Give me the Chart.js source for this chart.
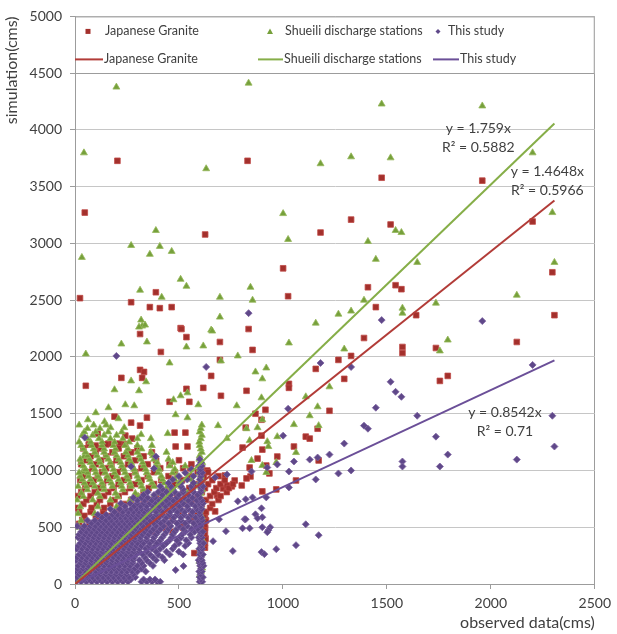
<!DOCTYPE html>
<html>
<head>
<meta charset="utf-8">
<script src="https://cdn.jsdelivr.net/npm/chart.js@4.4.1/dist/chart.umd.min.js"></script>
<style>
  html, body { margin: 0; padding: 0; background: #fff; }
</style>
</head>
<body>
<canvas id="chart" width="617" height="634"></canvas>
<script>
const seriesNames = ["Japanese Granite", "Shueili discharge stations", "This study"];
const slopes = [1.4648, 1.759, 0.8542];
const rSquared = ["0.5966", "0.5882", "0.71"];
const trendEndX = 2306;
const xTitle = "observed data(cms)";
const yTitle = "simulation(cms)";
const xMax = 2500, xStep = 500;
const yMax = 5000, yStep = 500;
const legendFloor = 4500;

// Japanese Granite - scattered points
const granitePts = [
  [47,3272],[204,3728],[24,2518],[830,3728],[626,3079],[1001,2781],[1025,2535],[1181,3096],[1328,3210],
  [1475,3579],[1518,3167],[1409,2614],[1542,2632],[1570,2597],[1447,2439],[1641,2368],[835,2246],
  [1959,3553],[2201,3193],[2296,2746],[2306,2368],[2125,2132],[1736,2079],[1755,1789],[1793,1833],
  [270,2482],[389,2570],[360,2439],[408,2430],[465,2439],[508,2254],
  [854,2062],[1390,2167],[1575,2088],[1575,2035],[1267,1974],[1328,2009],[1158,1895],[1295,1807],
  [1029,1763],[1029,1728],[1224,1526],[916,1535],[868,1500],[897,1447],[821,1377],[897,1307],
  [1110,1298],[1129,1281],[1167,1368],[1053,1211],[901,1184],[878,1105],[973,1123],[1172,1088],
  [840,1026],[920,1044],[844,947],[935,974],[1063,912],[901,816],[968,833],
  [313,2202],[512,2246],[536,2175],[697,2132],[413,2044],[697,1974],[313,1886],[332,1868],[223,1816],
  [323,1816],[52,1746],[655,1833],[617,1728],[536,1719],[702,1658],[825,1702],[455,1605],[550,1605],
  [190,1474],[346,1465],[270,1421],[313,1395],[109,1325],[242,1307],[275,1281],[479,1333],[531,1333],
  [66,1228],[100,1219],[161,1237],[213,1237],[484,1211],[541,1211],[806,1202],[683,781],[712,842],
  [754,860],[721,956],[636,1000],[555,1018],[674,640],[626,491],[574,272],[731,868],[768,912],
  [802,868],[825,930]
];
// Japanese Granite - dense cloud, rows of [y, x values]
const graniteRows = [
  [320,[625]],[360,[625]],[400,[628]],[440,[625]],[480,[622]],[520,[625]],[560,[630]],[600,[625]],
  [460,[40,120,200,290,380,470]],
  [495,[60,160,250,340,430,520]],
  [530,[20,70,150,230,330,420,520]],
  [565,[35,110,190,280,375,470,560]],
  [600,[45,100,170,260,350,450,560,620]],
  [635,[20,75,135,215,305,400,500,590,630]],
  [670,[15,80,140,210,300,390,500,600,650]],
  [705,[40,105,170,240,330,425,525,610,660]],
  [740,[55,120,190,270,360,460,560,630,690]],
  [775,[15,75,140,210,295,390,490,590,650,700]],
  [810,[30,95,160,240,330,420,520,610,670,730]],
  [845,[50,115,185,265,355,450,550,625,680,740]],
  [880,[70,135,210,290,380,480,580,640,700,760]],
  [915,[25,90,155,235,320,415,515,610,660,720]],
  [950,[40,110,180,260,350,450,550,620,690]],
  [985,[60,130,205,290,380,480,590,640]],
  [1020,[85,150,230,320,410,520,610]],
  [1055,[30,100,175,255,350,455,560]],
  [1090,[55,125,200,290,390,500]],
  [1125,[75,150,235,330]],
  [1160,[100,180,270,370]],
  [1195,[40,125,210,300]],
  [1230,[70,150,240]]
];

// Shueili discharge stations - scattered points
const shueiliPts = [
  [199,4377],[43,3798],[631,3658],[389,3114],[270,2982],[408,2974],[360,2904],[465,2930],[33,2877],
  [508,2684],[536,2623],[313,2588],[417,2526],[697,2526],[697,2351],[318,2325],[323,2272],[308,2263],
  [337,2281],[655,2237],[835,4412],[1475,4228],[1181,3702],[1328,3763],[1518,3754],[1001,3263],
  [1025,3035],[1409,3017],[1542,3114],[1570,3096],[1447,2860],[1646,2833],[844,2614],[854,2500],
  [1390,2500],[1328,2404],[1267,2377],[1158,2298],[1575,2430],[1575,2386],[1959,4211],[2201,3798],
  [2296,3272],[2306,2833],[2125,2544],[1736,2474],[1793,2149],[1755,2053],
  [1029,2123],[1295,2070],[868,1868],[920,1903],[901,1807],[1224,1737],[897,1640],[1110,1649],
  [1167,1561],[1129,1482],[1053,1404],[1172,1395],[878,1377],[901,1447],[840,1263],[973,1298],
  [925,1254],[930,1211],[1063,1158],[849,1088],[968,1070],[901,1044],[920,982],
  [660,2228],[223,2114],[346,2132],[536,2088],[617,2097],[52,2026],[783,2009],[702,1965],[455,1947],
  [270,1789],[342,1781],[190,1711],[308,1702],[508,1658],[474,1623],[541,1684],[593,1579],[161,1553],
  [242,1579],[285,1570],[100,1509],[62,1447],[142,1430],[209,1456],[237,1377],[171,1377],[484,1491],
  [541,1465],[365,1281],[318,1316],[446,1325],[43,1123],[38,991],[778,1570],[731,1281],[825,1368],
  [688,1395]
];
const shueiliRows = [
  [30,[604]],[80,[600]],[110,[606]],[140,[612]],[170,[604]],[200,[598]],[230,[606]],[260,[608]],
  [290,[604]],[320,[600]],[350,[608]],[380,[615]],[410,[604]],[440,[602]],[470,[606]],
  [500,[20,110,230,600]],
  [530,[602]],
  [560,[30,130,250,380,605]],
  [590,[610]],
  [620,[15,95,185,280,410,600]],
  [650,[600]],
  [680,[25,110,200,300,430,608]],
  [710,[605]],
  [740,[10,85,170,265,370,520,598]],
  [770,[40,120,205,305,420,600]],
  [800,[30,110,195,290,400,540,605]],
  [830,[60,140,230,330,460,612]],
  [860,[15,55,95,135,180,225,270,320,380,445,510,600]],
  [890,[45,85,130,175,220,265,315,370,430,500,598]],
  [920,[35,75,120,165,210,255,305,360,420,480,560,610]],
  [950,[25,65,110,155,200,250,300,355,415,490,605]],
  [980,[20,60,100,145,190,240,290,345,400,470,600]],
  [1010,[50,95,140,185,235,285,340,405,480,600]],
  [1040,[40,85,130,175,225,275,330,390,455,530,605]],
  [1070,[30,75,120,170,220,270,325,395,470,612]],
  [1100,[25,70,115,160,210,260,315,380,450,598]],
  [1130,[60,105,150,200,255,310,375,600]],
  [1160,[50,95,140,190,245,300,365,440,610]],
  [1190,[40,90,140,195,255,320,605]],
  [1220,[30,80,130,185,240,300,370,600]],
  [1250,[20,75,130,190,260,598]],
  [1280,[60,115,170,230,300,605]],
  [1310,[35,85,140,200,610]],
  [1340,[45,100,160,225,600]],
  [1370,[60,120,605]],
  [1400,[20,90,150,610]]
];

// This study - scattered points
const studyPts = [
  [199,2009],[47,1290],[631,1912],[33,491],[270,1035],[389,1123],[380,1018],[726,465],[759,290],
  [783,728],[806,491],[816,570],[693,570],[664,377],[522,158],[484,123],[674,939],[731,965],
  [1181,1947],[1328,1912],[1518,1781],[1542,1693],[1570,1649],[1025,1544],[1447,1553],[1646,1482],
  [1390,1395],[1409,1368],[1001,1307],[1295,1237],[1224,1140],[1129,1096],[1167,1114],[1053,1079],
  [973,1053],[1575,1079],[1575,1035],[925,1026],[849,991],[1029,991],[1267,974],[1328,1000],
  [1158,921],[1029,851],[854,763],[920,763],[821,746],[897,667],[868,614],[901,588],[878,579],
  [821,570],[1110,526],[840,491],[901,500],[939,500],[930,474],[925,456],[1172,430],[1063,342],
  [968,307],[897,281],[911,263],
  [2201,1930],[2296,1482],[1736,1298],[2306,1211],[1793,1140],[2125,1096],[1755,1035],[1959,2316],
  [835,2386],[1475,2325]
];
const studyRows = [
  [20,[5,30,55,80,105,130,155,180,205,230,255,320,345,370,395,410,600,612]],
  [40,[18,42,68,92,118,142,168,192,218,242,268,330,360,385,605]],
  [60,[10,35,60,85,110,135,160,185,210,235,260,290,600,615]],
  [85,[20,48,72,98,122,148,172,198,222,248,280,604]],
  [110,[0,25,50,75,100,125,150,175,200,225,250,275,300,340,598,610]],
  [135,[12,38,62,88,112,138,162,188,212,238,262,288,320,606]],
  [160,[15,40,65,90,115,140,165,190,215,240,265,300,330,375,602,618]],
  [185,[28,52,78,102,128,152,178,202,228,252,278,320,360,600,614]],
  [210,[5,30,55,80,105,130,155,180,205,230,255,280,310,345,390,430,595,610]],
  [235,[10,35,60,85,110,135,160,185,210,235,260,285,335,375,420,606]],
  [260,[20,45,70,95,120,145,170,195,220,245,270,295,325,360,400,455,520,600,615]],
  [285,[30,58,82,108,132,158,182,208,232,258,282,310,345,390,440,500,604]],
  [310,[8,35,60,85,110,135,160,185,210,235,260,285,310,340,370,410,470,598,612]],
  [335,[15,45,70,95,120,145,170,195,220,245,270,295,320,355,385,425,480,530,608]],
  [360,[25,50,75,100,125,150,175,200,225,250,275,300,330,360,395,440,500,545,602,618]],
  [385,[35,62,88,112,138,162,188,212,238,262,288,315,345,375,410,455,490,535,600]],
  [410,[15,40,65,90,115,140,165,190,215,240,265,290,315,345,380,420,465,510,560,595,610]],
  [435,[20,48,72,98,122,148,172,198,222,248,272,298,325,355,390,430,470,515,555,606]],
  [460,[30,55,80,105,130,155,180,205,230,255,280,305,335,365,400,440,480,530,575,600,615]],
  [485,[40,68,92,118,142,168,192,218,242,268,292,318,345,378,412,450,490,520,560,590]],
  [510,[10,45,75,100,125,150,175,200,225,250,275,300,325,355,390,425,460,500,540,580,605]],
  [535,[80,112,138,162,188,212,238,262,288,315,345,378,412,450,490,530,570,600]],
  [560,[60,95,125,150,175,200,225,250,275,300,330,360,395,430,470,510,550,590,612]],
  [585,[130,165,192,218,242,268,292,318,345,375,405,440,475,510,545,580,608]],
  [610,[110,150,180,205,230,255,280,305,330,360,390,420,455,490,525,560,600]],
  [635,[190,230,258,282,308,332,360,390,422,458,492,528,565,600]],
  [660,[170,215,245,270,295,320,345,375,405,440,475,510,545,585,610]],
  [685,[240,285,315,345,375,405,435,468,502,540,578,606]],
  [710,[220,265,300,330,360,390,420,450,485,520,560,598,615]],
  [735,[300,335,370,405,440,472,508,545,585,610]],
  [760,[280,320,350,385,420,455,490,525,565,600]],
  [785,[330,380,420,460,500,545,590]],
  [810,[350,400,440,480,520,570,605]],
  [835,[420,470,520,565,608]],
  [860,[410,460,510,560,600,615]],
  [890,[450,510,570,605]],
  [920,[470,540,600]],
  [950,[500,570,606]],
  [980,[530,600,612]],
  [1010,[560,604]],
  [1040,[595,610]],
  [1070,[606]],
  [1100,[600]]
];

const colors = {
  granite: { fill: "#a3302c", edge: "#bf4a46", line: "#b23c38" },
  shueili: { fill: "#76a03b", edge: "#96b85a", line: "#86ae48" },
  study:   { fill: "#5f4889", edge: "#7c62a0", line: "#6b4f98" },
};
const textColor = "#404040";
const gridColor = "#c6c6c6";
const axisColor = "#9c9c9c";
const fontFamily = "Lato, 'Open Sans', sans-serif";

function toPoints(pts, rows) {
  const out = pts.map(([x, y]) => ({ x, y }));
  rows.forEach(([y, xs]) => xs.forEach((x) => out.push({ x, y })));
  return out;
}

function trendData(slope) {
  return [{ x: 0, y: 0 }, { x: trendEndX, y: slope * trendEndX }];
}

const scatterStyle = (c, style, radius, order) => ({
  pointStyle: style,
  pointRadius: radius,
  pointHoverRadius: radius,
  backgroundColor: c.fill,
  borderColor: c.edge,
  borderWidth: 0.8,
  showLine: false,
  order,
});

const trendStyle = (c) => ({
  showLine: true,
  pointRadius: 0,
  borderColor: c.line,
  borderWidth: 2,
  fill: false,
  order: 0,
});

// equation labels: anchor in data units, 2nd line drawn 19px lower
const eqLabels = [
  { at: [2272, 3632], text: [`y = ${slopes[0]}x`, `R² = ${rSquared[0]}`] },
  { at: [1940, 4009], text: [`y = ${slopes[1]}x`, `R² = ${rSquared[1]}`] },
  { at: [2068, 1509], text: [`y = ${slopes[2]}x`, `R² = ${rSquared[2]}`] },
];

const overlayPlugin = {
  id: "overlay",
  afterDraw(chart) {
    const { ctx, chartArea: a, scales } = chart;
    const bottom = Math.round(scales.y.getPixelForValue(legendFloor)) + 0.5;
    const top = a.top + 0.5;
    ctx.save();

    // legend box
    ctx.fillStyle = "#fff";
    ctx.fillRect(a.left, top, a.right - a.left, bottom - top);
    ctx.strokeStyle = axisColor;
    ctx.lineWidth = 1;
    ctx.strokeRect(a.left + 0.5, top, a.right - a.left - 1, bottom - top);

    ctx.font = `12.5px ${fontFamily}`;
    ctx.textBaseline = "middle";
    ctx.fillStyle = textColor;
    const row1 = a.top + 15, row2 = a.top + 43;
    const markX = [13, 195, 363];
    const textX1 = [30, 210, 373];
    const lineX = [[0, 28], [183, 208], [358, 384]];
    const textX2 = [29, 209, 385];
    const cs = [colors.granite, colors.shueili, colors.study];

    // marker row
    let mx = a.left + markX[0];
    ctx.fillStyle = cs[0].fill;
    ctx.fillRect(mx - 2.5, row1 - 2.5, 5, 5);
    mx = a.left + markX[1];
    ctx.fillStyle = cs[1].fill;
    ctx.beginPath();
    ctx.moveTo(mx, row1 - 3);
    ctx.lineTo(mx + 3, row1 + 2.5);
    ctx.lineTo(mx - 3, row1 + 2.5);
    ctx.closePath();
    ctx.fill();
    mx = a.left + markX[2];
    ctx.fillStyle = cs[2].fill;
    ctx.beginPath();
    ctx.moveTo(mx, row1 - 2.5);
    ctx.lineTo(mx + 2.5, row1);
    ctx.lineTo(mx, row1 + 2.5);
    ctx.lineTo(mx - 2.5, row1);
    ctx.closePath();
    ctx.fill();

    ctx.fillStyle = textColor;
    seriesNames.forEach((name, i) => ctx.fillText(name, a.left + textX1[i], row1));

    // trendline row
    seriesNames.forEach((name, i) => {
      ctx.strokeStyle = cs[i].line;
      ctx.lineWidth = 2;
      ctx.beginPath();
      ctx.moveTo(a.left + lineX[i][0], row2);
      ctx.lineTo(a.left + lineX[i][1], row2);
      ctx.stroke();
      ctx.fillStyle = textColor;
      ctx.fillText(name, a.left + textX2[i], row2);
    });

    // equation labels
    ctx.font = `14px ${fontFamily}`;
    ctx.textAlign = "center";
    ctx.fillStyle = textColor;
    eqLabels.forEach((lab) => {
      const px = scales.x.getPixelForValue(lab.at[0]);
      const py = scales.y.getPixelForValue(lab.at[1]);
      ctx.fillText(lab.text[0], px, py);
      ctx.fillText(lab.text[1], px, py + 19);
    });
    ctx.restore();
  },
};

new Chart(document.getElementById("chart"), {
  type: "scatter",
  data: {
    datasets: [
      { label: seriesNames[0], data: toPoints(granitePts, graniteRows), ...scatterStyle(colors.granite, "rect", 4, 3) },
      { label: seriesNames[1], data: toPoints(shueiliPts, shueiliRows), ...scatterStyle(colors.shueili, "triangle", 4, 2) },
      { label: seriesNames[2], data: toPoints(studyPts, studyRows), ...scatterStyle(colors.study, "rectRot", 3.5, 1) },
      { label: seriesNames[0], data: trendData(slopes[0]), ...trendStyle(colors.granite) },
      { label: seriesNames[1], data: trendData(slopes[1]), ...trendStyle(colors.shueili) },
      { label: seriesNames[2], data: trendData(slopes[2]), ...trendStyle(colors.study) },
    ],
  },
  options: {
    responsive: false,
    animation: false,
    layout: { padding: { top: 14, right: 15, left: 0, bottom: 0 } },
    plugins: {
      legend: { display: false },
      tooltip: { enabled: false },
    },
    scales: {
      x: {
        type: "linear",
        min: 0,
        max: xMax,
        ticks: {
          stepSize: xStep, color: textColor, font: { family: fontFamily, size: 14 }, padding: 6, maxRotation: 0,
          callback: (v) => String(v),
        },
        grid: {
          color: (c) => (c.tick && c.tick.value === xMax ? axisColor : "rgba(0,0,0,0)"),
          tickColor: axisColor,
          tickLength: 5,
        },
        border: { color: axisColor },
        title: {
          display: true,
          text: xTitle,
          align: "end",
          color: textColor,
          font: { family: fontFamily, size: 16 },
          padding: { top: 0, bottom: 2 },
        },
        afterFit: (s) => { s.height = 50; },
      },
      y: {
        type: "linear",
        min: 0,
        max: yMax,
        ticks: {
          stepSize: yStep, color: textColor, font: { family: fontFamily, size: 14 }, padding: 8,
          callback: (v) => String(v),
        },
        grid: { color: gridColor, tickColor: axisColor, tickLength: 5 },
        border: { color: axisColor },
        title: {
          display: true,
          text: yTitle,
          align: "end",
          color: textColor,
          font: { family: fontFamily, size: 16 },
          padding: { top: 2, bottom: 0 },
        },
        afterFit: (s) => { s.width = 75; },
      },
    },
  },
  plugins: [overlayPlugin],
});
</script>
</body>
</html>
